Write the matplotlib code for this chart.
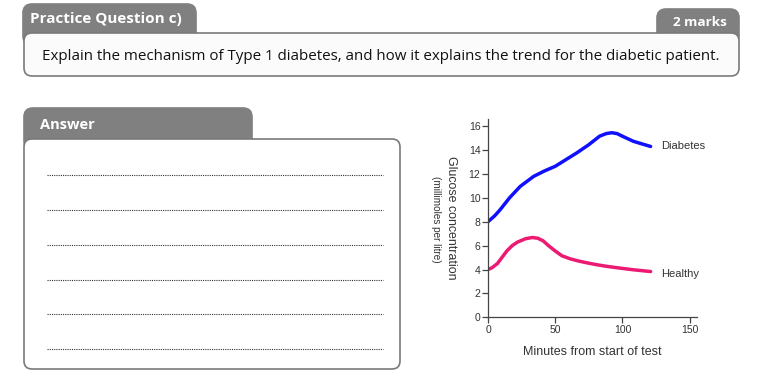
import matplotlib
matplotlib.use("Agg")
import matplotlib.pyplot as plt
from matplotlib.patches import FancyBboxPatch

# glucose readings
minutes_diab = [0, 5, 9, 16, 24, 34, 42, 50, 58, 66, 75, 83, 88, 92, 96, 100, 108, 115, 121]
glucose_diab = [8.0, 8.5, 9.0, 10.0, 10.96, 11.8, 12.25, 12.64, 13.2, 13.76, 14.45, 15.16,
                15.38, 15.45, 15.38, 15.16, 14.74, 14.5, 14.3]
minutes_heal = [0, 3, 7, 11, 14, 18, 22, 28, 33, 37, 41, 45, 50, 55, 61, 67, 74, 81, 88,
                98, 108, 121]
glucose_heal = [4.0, 4.15, 4.5, 5.1, 5.55, 6.0, 6.3, 6.58, 6.68, 6.62, 6.4, 6.0, 5.55, 5.15,
                4.9, 4.72, 4.55, 4.4, 4.27, 4.12, 3.98, 3.83]
x_ticks = [0, 50, 100, 150]
y_ticks = [0, 2, 4, 6, 8, 10, 12, 14, 16]

title = "Practice Question c)"
marks = "2 marks"
question = "Explain the mechanism of Type 1 diabetes, and how it explains the trend for the diabetic patient."
answer = "Answer"
line_ys = [175, 210, 245, 280, 314, 349]

W, H = 762, 377
fig = plt.figure(figsize=(W / 100, H / 100), dpi=100)

# background layer in pixel coordinates
bg = fig.add_axes([0, 0, 1, 1])
bg.set_xlim(0, W)
bg.set_ylim(H, 0)
bg.axis("off")

tab_grey = "#808080"
edge_grey = "#7a7a7a"


def rbox(x0, y0, x1, y1, r, fc, ec, lw=1.2, z=1):
    p = FancyBboxPatch((x0 + r, y0 + r), x1 - x0 - 2 * r, y1 - y0 - 2 * r,
                       boxstyle=f"round,pad={r}", fc=fc, ec=ec, lw=lw, zorder=z)
    bg.add_patch(p)


# question header
rbox(23, 4, 196, 45, 9, tab_grey, tab_grey, z=1)
rbox(657, 9, 739, 45, 9, tab_grey, tab_grey, z=1)
rbox(24, 33, 739, 76, 8, "#fbfbfb", edge_grey, z=2)
bg.text(30, 19, title, color="white", fontsize=11, fontweight="bold",
        family="Open Sans", va="center", ha="left", zorder=3)
bg.text(727, 22, marks, color="white", fontsize=9.7, fontweight="bold",
        family="Open Sans", va="center", ha="right", zorder=3)
bg.text(381, 56, question, color="#111111", fontsize=10.9,
        family="Open Sans", va="center", ha="center", zorder=3)

# answer box
rbox(24, 108, 252, 150, 9, tab_grey, tab_grey, z=1)
rbox(24, 139, 400, 369, 8, "white", edge_grey, z=2)
bg.text(40, 125, answer, color="white", fontsize=10.5, fontweight="bold",
        family="Open Sans", va="center", ha="left", zorder=3)
for y in line_ys:
    bg.plot([47, 383], [y, y], color="#333333", lw=0.8, ls=(0, (1, 1)), zorder=3)

# chart
ax = fig.add_axes([488 / W, 1 - 317.3 / H, 209 / W, 198.3 / H])
ax.patch.set_alpha(0)
ax.plot(minutes_diab, glucose_diab, color="#1010ff", lw=2.5, solid_capstyle="round")
ax.plot(minutes_heal, glucose_heal, color="#ec1a72", lw=2.5, solid_capstyle="round")
ax.set_xlim(0, 155.5)
ax.set_ylim(0, 16.6)
for s in ["top", "right"]:
    ax.spines[s].set_visible(False)
for s in ["left", "bottom"]:
    ax.spines[s].set_color("#444444")
    ax.spines[s].set_linewidth(0.9)
ax.set_xticks(x_ticks)
ax.set_yticks(y_ticks)
ax.tick_params(direction="out", length=4, width=0.9, color="#444444",
               labelsize=7.5, labelcolor="#333333", pad=1.5)
for lab in ax.get_xticklabels() + ax.get_yticklabels():
    lab.set_family("Liberation Sans")
ax.set_xlabel("Minutes from start of test", fontsize=9, family="Liberation Sans",
              color="#333333", labelpad=8)
ax.text(128.5, 14.37, "Diabetes", fontsize=8, family="Liberation Sans",
        color="#333333", va="center", ha="left")
ax.text(128.5, 3.63, "Healthy", fontsize=8, family="Liberation Sans",
        color="#333333", va="center", ha="left")
fig.text(451 / W, 1 - 218 / H, "Glucose concentration", rotation=-90,
         fontsize=8.9, family="Liberation Sans", color="#333333",
         ha="center", va="center")
fig.text(436 / W, 1 - 219 / H, "(millimoles per litre)", rotation=-90,
         fontsize=7.2, family="Liberation Sans", color="#333333",
         ha="center", va="center")

fig.savefig("out.png", dpi=100)
